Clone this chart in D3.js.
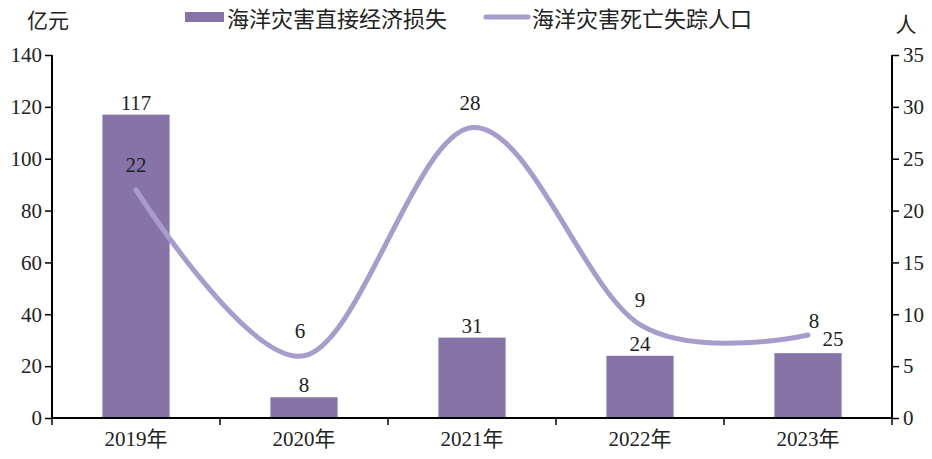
<!DOCTYPE html>
<html><head><meta charset="utf-8">
<script src="https://cdn.jsdelivr.net/npm/d3@7"></script>
<style>
html,body{margin:0;padding:0;background:#fff;}
svg{display:block;}
</style></head>
<body><svg id="c" width="932" height="459"></svg>
<script>
const categories = ["2019年","2020年","2021年","2022年","2023年"];
const lossValues = [117, 8, 31, 24, 25];        // 亿元
const deathValues = [22, 6, 28, 9, 8];          // 人
const leftTicks = [0,20,40,60,80,100,120,140];
const rightTicks = [0,5,10,15,20,25,30,35];
const seriesNames = ["海洋灾害直接经济损失","海洋灾害死亡失踪人口"];

const W=932,H=459;
const m={l:52,r:892,t:55,b:418};
const barColor="#8674A8", lineColor="#A79CCC";
const numFont="'Liberation Serif','Times New Roman',serif";
const cjkFont="'Liberation Serif','Noto Sans CJK SC',serif";

const svg=d3.select("#c");
const x=d3.scaleBand().domain(categories).range([m.l,m.r]).padding(0);
const yL=d3.scaleLinear().domain([0,140]).range([m.b,m.t]);
const yR=d3.scaleLinear().domain([0,35]).range([m.b,m.t]);
const bw=x.bandwidth()*0.4;

// bars
svg.append("g").selectAll("rect").data(lossValues).join("rect")
  .attr("x",(d,i)=>x(categories[i])+x.bandwidth()/2-bw/2)
  .attr("y",d=>yL(d)).attr("width",bw).attr("height",d=>m.b-yL(d))
  .attr("fill",barColor);

// line
const line=d3.line().x((d,i)=>x(categories[i])+x.bandwidth()/2).y(d=>yR(d))
  .curve(d3.curveCardinal.tension(0));
svg.append("path").datum(deathValues).attr("d",line)
  .attr("fill","none").attr("stroke",lineColor).attr("stroke-width",5).attr("stroke-linecap","round");

// axes
const axL=d3.axisLeft(yL).tickValues(leftTicks).tickSize(7).tickPadding(3);
const gL=svg.append("g").attr("transform",`translate(${m.l},0)`).call(axL);
const axR=d3.axisRight(yR).tickValues(rightTicks).tickSize(7).tickPadding(4);
const gR=svg.append("g").attr("transform",`translate(${m.r},0)`).call(axR);
const axB=d3.axisBottom(x).tickSize(0).tickPadding(0);
const gB=svg.append("g").attr("transform",`translate(0,${m.b})`).call(axB);
[gL,gR,gB].forEach(g=>{
  g.select(".domain").attr("stroke","#000").attr("stroke-width",2);
  g.selectAll(".tick line").attr("stroke","#000").attr("stroke-width",1.5);
  g.selectAll("text").attr("font-family",numFont).attr("font-size",21).attr("fill","#222");
});
gL.select(".domain").attr("d",`M0,${m.t}V${m.b}`);
gR.select(".domain").attr("d",`M0,${m.t}V${m.b}`);
gB.select(".domain").attr("d",`M${m.l},0H${m.r}`);
gB.selectAll(".tick text").attr("font-family",cjkFont).attr("dy",null).attr("y",28);
// category boundary ticks
const bounds=categories.map(c=>x(c)).concat([m.r]);
gB.selectAll(".bt").data(bounds).join("line").attr("class","bt")
  .attr("x1",d=>d).attr("x2",d=>d).attr("y1",0).attr("y2",7)
  .attr("stroke","#000").attr("stroke-width",1.5);

// value labels
const barAdj=[[0,0],[0,0],[0,0],[0,0],[25,-2]];
svg.append("g").selectAll("text").data(lossValues).join("text")
  .attr("x",(d,i)=>x(categories[i])+x.bandwidth()/2+barAdj[i][0])
  .attr("y",(d,i)=>yL(d)-5+barAdj[i][1])
  .attr("text-anchor","middle").attr("font-family",numFont).attr("font-size",21).attr("fill","#222")
  .text(d=>d);
const lineAdj=[[0,0],[-4,0],[-2,0],[0,0],[6,11]];
svg.append("g").selectAll("text").data(deathValues).join("text")
  .attr("x",(d,i)=>x(categories[i])+x.bandwidth()/2+lineAdj[i][0])
  .attr("y",(d,i)=>yR(d)-18+lineAdj[i][1])
  .attr("text-anchor","middle").attr("font-family",numFont).attr("font-size",21).attr("fill","#222")
  .text(d=>d);

// unit labels
svg.append("text").attr("x",48).attr("y",28).attr("text-anchor","middle")
  .attr("font-family",cjkFont).attr("font-size",21).attr("fill","#222").text("亿元");
svg.append("text").attr("x",906).attr("y",32).attr("text-anchor","middle")
  .attr("font-family",cjkFont).attr("font-size",21).attr("fill","#222").text("人");

// legend
const lg=svg.append("g");
lg.append("rect").attr("x",185).attr("y",12).attr("width",39).attr("height",10).attr("fill",barColor);
lg.append("text").attr("x",227).attr("y",27).attr("font-family",cjkFont).attr("font-size",22).attr("fill","#222").text(seriesNames[0]);
lg.append("line").attr("x1",486).attr("x2",528).attr("y1",17).attr("y2",17)
  .attr("stroke",lineColor).attr("stroke-width",5).attr("stroke-linecap","round");
lg.append("text").attr("x",532).attr("y",27).attr("font-family",cjkFont).attr("font-size",22).attr("fill","#222").text(seriesNames[1]);
</script></body></html>
